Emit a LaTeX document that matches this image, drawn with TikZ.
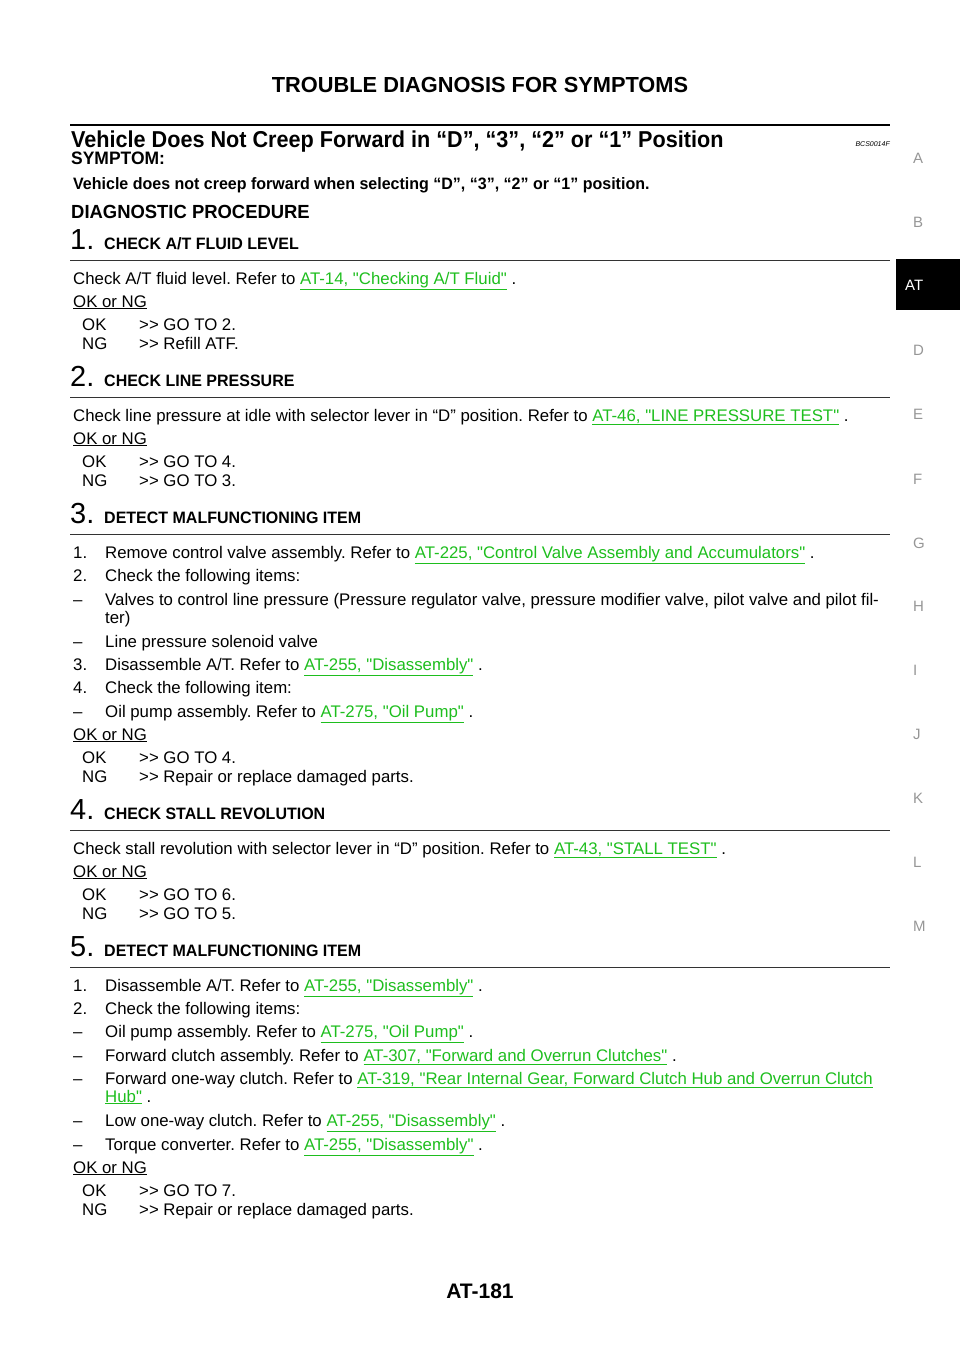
\documentclass[tikz,border=0pt]{standalone}
\usepackage{fontspec}
\setmainfont{Liberation Sans}[Ligatures=NoCommon]
\newfontfamily\cond[FakeStretch=0.97]{Liberation Sans}
\newfontfamily\condt[FakeStretch=0.94]{Liberation Sans}
\definecolor{lnk}{RGB}{30,190,30}
\definecolor{tabgray}{RGB}{150,150,150}
\frenchspacing
\newcounter{nn}
\newcommand{\tl}[3]{\stepcounter{nn}\node[txt] (n\thenn) at (#1,-#2) {#3};}
\newcommand{\q}{\textquotedbl}
\newcommand{\gto}{\textgreater\kern0pt\textgreater}
\newcommand{\lk}[1]{\textcolor{lnk}{\underline{#1}}}
\newcommand{\stepnum}[3]{%
  \stepcounter{nn}\node[txt,font=\fontsize{29}{29}\selectfont] (n\thenn) at (70,-#2) {#1.};
  \stepcounter{nn}\node[txt,font=\cond\bfseries\fontsize{16.5}{18}\selectfont] (n\thenn) at (104,-#2) {#3};
  \draw[rule] (70,-#2-11) -- (890,-#2-11);}
\newcommand{\okng}[3]{%
  \tl{73}{#1}{\underline{OK or NG}}
  \tl{82}{\the\numexpr#1+23\relax}{OK}\tl{139}{\the\numexpr#1+23\relax}{\gto{} #2}
  \tl{82}{\the\numexpr#1+42\relax}{NG}\tl{139}{\the\numexpr#1+42\relax}{\gto{} #3}}
\begin{document}
\begin{tikzpicture}[x=1pt,y=1pt,
  txt/.style={anchor=base west,inner sep=0pt,font=\fontsize{16.8}{19}\selectfont},
  rule/.style={line width=1pt,black!80},
  tab/.style={anchor=base west,inner sep=0pt,text=tabgray,font=\fontsize{15}{15}\selectfont}]
\useasboundingbox (0,0) rectangle (960,-1358);
\node[anchor=base,inner sep=0pt,font=\bfseries\fontsize{21.8}{22}\selectfont] (hdr) at (480,-92) {TROUBLE DIAGNOSIS FOR SYMPTOMS};
\draw[line width=2.5pt] (70,-125) -- (890,-125);
\node[anchor=base west,inner sep=0pt,font=\condt\bfseries\fontsize{23}{25}\selectfont] (ttl) at (71,-147) {Vehicle Does Not Creep Forward in “D”, “3”, “2” or “1” Position};
\node[anchor=base east,inner sep=0pt,font=\itshape\fontsize{7}{8}\selectfont] (code) at (890,-146) {BCS0014F};
\node[anchor=base west,inner sep=0pt,font=\cond\bfseries\fontsize{18}{20}\selectfont] (sym) at (71,-164) {SYMPTOM:};
\node[anchor=base west,inner sep=0pt,font=\cond\bfseries\fontsize{16.5}{18}\selectfont] (symt) at (73,-189) {Vehicle does not creep forward when selecting “D”, “3”, “2” or “1” position.};
\node[anchor=base west,inner sep=0pt,font=\cond\bfseries\fontsize{19}{20}\selectfont] (dp) at (71,-218) {DIAGNOSTIC PROCEDURE};
% step 1
\stepnum{1}{249}{CHECK A/T FLUID LEVEL}
\tl{73}{284}{Check A/T fluid level. Refer to \lk{AT-14, \q Checking A/T Fluid\q} .}
\okng{307}{GO TO 2.}{Refill ATF.}
% step 2
\stepnum{2}{386}{CHECK LINE PRESSURE}
\tl{73}{421}{Check line pressure at idle with selector lever in “D” position. Refer to \lk{AT-46, \q LINE PRESSURE TEST\q} .}
\okng{444}{GO TO 4.}{GO TO 3.}
% step 3
\stepnum{3}{523}{DETECT MALFUNCTIONING ITEM}
\tl{73}{558}{1.}\tl{105}{558}{Remove control valve assembly. Refer to \lk{AT-225, \q Control Valve Assembly and Accumulators\q} .}
\tl{73}{581}{2.}\tl{105}{581}{Check the following items:}
\tl{73}{605}{\textendash}\tl{105}{605}{Valves to control line pressure (Pressure regulator valve, pressure modifier valve, pilot valve and pilot fil-}
\tl{105}{623}{ter)}
\tl{73}{647}{\textendash}\tl{105}{647}{Line pressure solenoid valve}
\tl{73}{670}{3.}\tl{105}{670}{Disassemble A/T. Refer to \lk{AT-255, \q Disassembly\q} .}
\tl{73}{693}{4.}\tl{105}{693}{Check the following item:}
\tl{73}{717}{\textendash}\tl{105}{717}{Oil pump assembly. Refer to \lk{AT-275, \q Oil Pump\q} .}
\okng{740}{GO TO 4.}{Repair or replace damaged parts.}
% step 4
\stepnum{4}{819}{CHECK STALL REVOLUTION}
\tl{73}{854}{Check stall revolution with selector lever in “D” position. Refer to \lk{AT-43, \q STALL TEST\q} .}
\okng{877}{GO TO 6.}{GO TO 5.}
% step 5
\stepnum{5}{956}{DETECT MALFUNCTIONING ITEM}
\tl{73}{991}{1.}\tl{105}{991}{Disassemble A/T. Refer to \lk{AT-255, \q Disassembly\q} .}
\tl{73}{1014}{2.}\tl{105}{1014}{Check the following items:}
\tl{73}{1037}{\textendash}\tl{105}{1037}{Oil pump assembly. Refer to \lk{AT-275, \q Oil Pump\q} .}
\tl{73}{1061}{\textendash}\tl{105}{1061}{Forward clutch assembly. Refer to \lk{AT-307, \q Forward and Overrun Clutches\q} .}
\tl{73}{1084}{\textendash}\tl{105}{1084}{Forward one-way clutch. Refer to \lk{AT-319, \q Rear Internal Gear, Forward Clutch Hub and Overrun Clutch}}
\tl{105}{1102}{\lk{Hub\q} .}
\tl{73}{1126}{\textendash}\tl{105}{1126}{Low one-way clutch. Refer to \lk{AT-255, \q Disassembly\q} .}
\tl{73}{1150}{\textendash}\tl{105}{1150}{Torque converter. Refer to \lk{AT-255, \q Disassembly\q} .}
\okng{1173}{GO TO 7.}{Repair or replace damaged parts.}
% footer
\node[anchor=base,inner sep=0pt,font=\bfseries\fontsize{21}{22}\selectfont] (ftr) at (480,-1298) {AT-181};
% tabs
\fill[black] (896,-259) rectangle (960,-310);
\node[anchor=base west,inner sep=0pt,text=white,font=\fontsize{15}{15}\selectfont] (tabAT) at (905,-290) {AT};
\foreach \l/\y in {A/163,B/227,D/355,E/419,F/484,G/548,H/611,I/675,J/739,K/803,L/867,M/931}
  \node[tab] (tab\l) at (913,-\y) {\l};
\end{tikzpicture}
\end{document}
